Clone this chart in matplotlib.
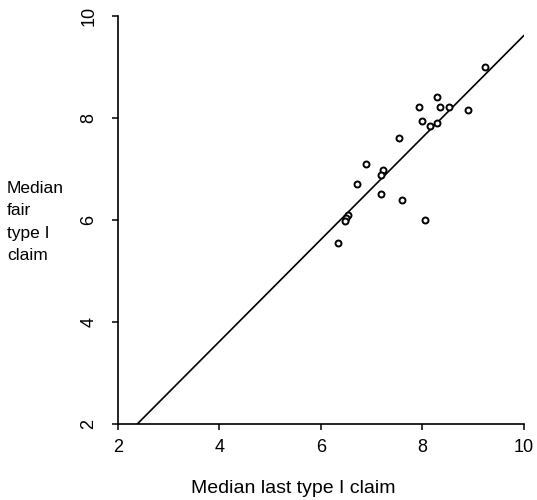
import numpy as np
import matplotlib.pyplot as plt

plt.rcParams['font.family'] = ['Liberation Sans', 'DejaVu Sans']

# median last type I claim vs median fair type I claim
last_claim = [9.23, 8.29, 7.93, 8.35, 8.53, 8.89, 7.99, 8.14, 8.29, 7.54, 6.89,
              7.23, 7.18, 6.71, 7.19, 7.59, 8.04, 6.54, 6.49, 6.48, 6.34]
fair_claim = [9.00, 8.41, 8.21, 8.21, 8.21, 8.15, 7.95, 7.85, 7.90, 7.60, 7.09,
              6.99, 6.89, 6.71, 6.51, 6.40, 6.00, 6.10, 6.04, 5.99, 5.54]

# fitted line
fit_slope = 1.0
fit_intercept = -0.38

ticks = [2, 4, 6, 8, 10]

fig = plt.figure(figsize=(5.37, 5.0), dpi=100)
ax = fig.add_axes([0.2197, 0.152, 0.7561, 0.816])

xs = np.array([2.0, 10.0])
ax.plot(xs, fit_slope * xs + fit_intercept, color='black', lw=1.2)
ax.plot(last_claim, fair_claim, 'o', mfc='white', mec='black', ms=4.3, mew=1.4)

ax.set_xlim(2, 10)
ax.set_ylim(2, 10)
ax.set_xticks(ticks)
ax.set_yticks(ticks)
ax.set_xticklabels([str(t) for t in ticks], fontsize=13)
ax.set_yticklabels([str(t) for t in ticks], fontsize=13, rotation=90, va='center')
ax.tick_params(direction='out', length=4, width=1.1)
ax.tick_params(axis='x', pad=7)
ax.tick_params(axis='y', pad=11)
for s in ['top', 'right']:
    ax.spines[s].set_visible(False)
for s in ['left', 'bottom']:
    ax.spines[s].set_linewidth(1.2)

ax.set_xlabel('Median last type I claim', fontsize=14)
ax.xaxis.set_label_coords(0.431, -0.138)
fig.text(0.013, 1 - 222 / 500, 'Median\nfair\ntype I\nclaim', fontsize=12.5,
         ha='left', va='center', linespacing=1.6)

plt.savefig('out.png', dpi=100)
plt.close()
